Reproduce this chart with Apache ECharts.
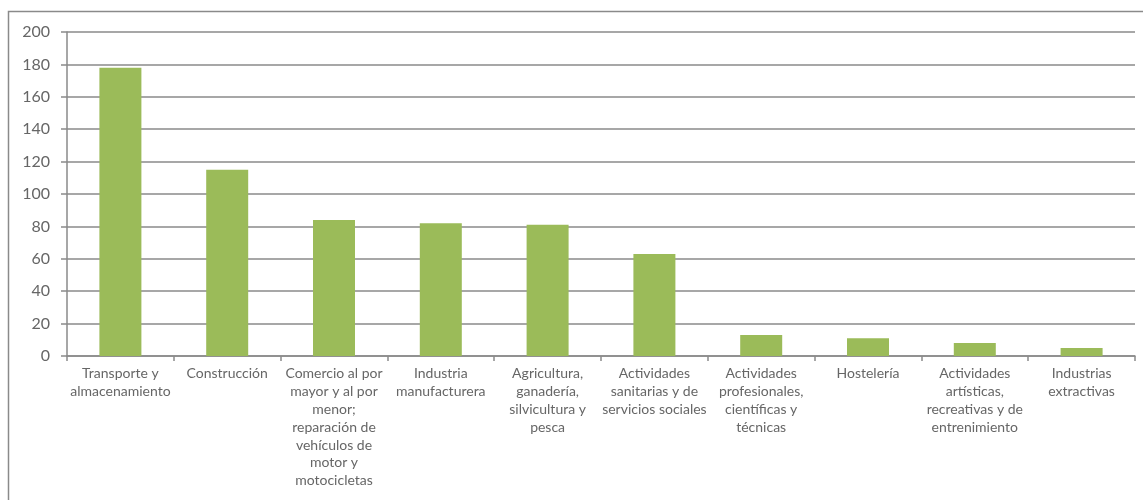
<!DOCTYPE html>
<html>
<head>
<meta charset="utf-8">
<script src="https://cdn.jsdelivr.net/npm/echarts@6/dist/echarts.min.js"></script>
<style>
html,body{margin:0;padding:0;background:#fff;}
#c{width:1143px;height:500px;}
</style>
</head>
<body>
<div id="c"></div>
<script>
const categories = [
  'Transporte y\nalmacenamiento',
  'Construcción',
  'Comercio al por\nmayor y al por\nmenor;\nreparación de\nvehículos de\nmotor y\nmotocicletas',
  'Industria\nmanufacturera',
  'Agricultura,\nganadería,\nsilvicultura y\npesca',
  'Actividades\nsanitarias y de\nservicios sociales',
  'Actividades\nprofesionales,\ncientíficas y\ntécnicas',
  'Hostelería',
  'Actividades\nartísticas,\nrecreativas y de\nentrenimiento',
  'Industrias\nextractivas'
];
const values = [178, 115, 84, 82, 81, 63, 13, 11, 8, 5];

const chart = echarts.init(document.getElementById('c'));
chart.setOption({
  animation: false,
  backgroundColor: '#ffffff',
  graphic: [{
    type: 'rect',
    shape: {x: 8.5, y: 11.5, width: 1200, height: 600},
    style: {fill: 'none', stroke: '#8a8a8a', lineWidth: 1.5},
    silent: true
  }],
  grid: {left: 67, right: 8, top: 32, bottom: 144, containLabel: false},
  xAxis: {
    type: 'category',
    data: categories,
    axisLine: {show: true, lineStyle: {color: '#8a8a8a', width: 1.5}},
    axisTick: {show: true, length: 5, lineStyle: {color: '#8a8a8a', width: 1.5}},
    axisLabel: {
      interval: 0,
      color: '#666666',
      fontFamily: 'Lato, "Open Sans", sans-serif',
      fontSize: 14,
      lineHeight: 17.8,
      margin: 9,
      align: 'center'
    }
  },
  yAxis: {
    type: 'value',
    min: 0,
    max: 200,
    interval: 20,
    axisLine: {show: true, lineStyle: {color: '#8a8a8a', width: 1.5}},
    axisTick: {show: true, length: 6, lineStyle: {color: '#8a8a8a', width: 1.5}},
    axisLabel: {
      color: '#666666',
      fontFamily: 'Lato, "Open Sans", sans-serif',
      fontSize: 16,
      margin: 17
    },
    splitLine: {show: true, lineStyle: {color: '#8a8a8a', width: 1.5}}
  },
  series: [{
    type: 'bar',
    data: values,
    barWidth: 42,
    itemStyle: {color: '#9bbb59'}
  }]
});
</script>
</body>
</html>
